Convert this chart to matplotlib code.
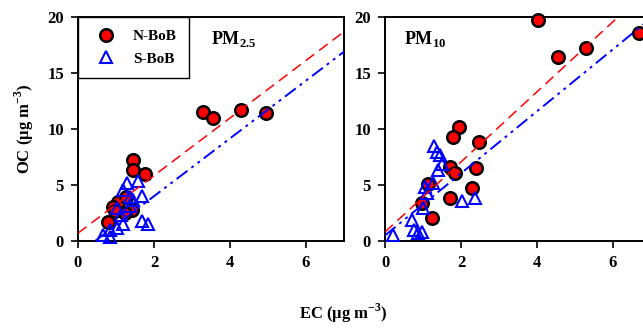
import matplotlib
matplotlib.use("Agg")
import numpy as np
import matplotlib.pyplot as plt

plt.rcParams['font.family'] = ['Liberation Serif', 'DejaVu Serif']
plt.rcParams['font.weight'] = 'bold'
plt.rcParams['mathtext.fontset'] = 'custom'
plt.rcParams['mathtext.rm'] = 'Liberation Serif:bold'
plt.rcParams['mathtext.bf'] = 'Liberation Serif:bold'

# PM2.5 panel
pm25_n_ec = [3.30, 3.54, 4.29, 4.96, 1.46, 1.46, 1.77, 1.05, 1.26, 0.93, 1.41, 1.24, 0.80, 0.97]
pm25_n_oc = [11.55, 11.0, 11.7, 11.45, 7.25, 6.34, 5.98, 3.51, 3.96, 3.06, 2.77, 2.47, 1.73, 2.65]
pm25_s_ec = [1.30, 1.59, 1.19, 1.36, 1.68, 1.45, 1.02, 1.37, 1.68, 1.85, 1.19, 1.02, 0.84, 0.67, 0.84, 1.12]
pm25_s_oc = [5.2, 5.4, 4.55, 3.9, 4.0, 3.7, 2.95, 3.1, 1.8, 1.55, 1.5, 1.13, 0.98, 0.55, 0.33, 2.3]

# PM10 panel
pm10_n_ec = [4.03, 4.56, 5.29, 6.69, 1.96, 1.80, 2.47, 1.71, 1.84, 2.39, 2.28, 1.71, 1.14, 0.97, 1.23]
pm10_n_oc = [19.7, 16.4, 17.2, 18.55, 10.15, 9.26, 8.84, 6.63, 6.1, 6.55, 4.7, 3.81, 5.09, 3.37, 2.02]
pm10_s_ec = [1.29, 1.36, 1.45, 1.49, 1.40, 1.27, 1.05, 1.10, 1.01, 2.02, 2.37, 0.70, 0.75, 0.88, 0.97, 0.20]
pm10_s_oc = [8.5, 7.95, 7.7, 6.9, 6.34, 5.15, 4.85, 4.26, 2.92, 3.6, 3.81, 1.87, 0.98, 0.74, 0.83, 0.54]

# regression lines (slope, intercept)
pm25_n_fit = (2.57, 0.7)
pm25_s_fit = (2.58, -1.16)
pm10_n_fit = (3.13, 0.8)
pm10_s_fit = (2.77, 0.5)

fig = plt.figure(figsize=(6.43, 3.31), dpi=100)
ax1 = fig.add_axes([78 / 643, 90 / 331, 266 / 643, 224 / 331])
ax2 = fig.add_axes([385 / 643, 90 / 331, 266 / 643, 224 / 331])

red_dash = (0, (7, 4))
blue_dashdot = (0, (7, 2.5, 1.5, 2.5, 1.5, 2.5))


def draw(ax, n_ec, n_oc, s_ec, s_oc, n_fit, s_fit):
    ax.plot(n_ec, n_oc, 'o', ms=9, mfc='red', mec='black', mew=1.8,
            ls='none', clip_on=False, zorder=3, label='N-BoB')
    ax.plot(s_ec, s_oc, '^', ms=9, mfc='none', mec='blue', mew=1.5,
            ls='none', clip_on=False, zorder=4, label='S-BoB')
    x = np.linspace(0, 7, 200)
    yn = n_fit[0] * x + n_fit[1]
    ax.plot(x[yn <= 20], yn[yn <= 20], color='red', lw=1.1, ls=red_dash, zorder=5)
    ys = s_fit[0] * x + s_fit[1]
    keep = (ys >= 0) & (ys <= 20)
    ax.plot(x[keep], ys[keep], color='blue', lw=1.4, ls=blue_dashdot, zorder=5)
    ax.set_xlim(0, 7)
    ax.set_ylim(0, 20)
    ax.set_xticks([0, 2, 4, 6])
    ax.set_yticks([0, 5, 10, 15, 20])
    ax.tick_params(direction='out', length=5, width=1.2, labelsize=12, pad=5)
    for lab in ax.get_xticklabels() + ax.get_yticklabels():
        lab.set_fontweight('bold')
    for s in ax.spines.values():
        s.set_linewidth(1.4)


draw(ax1, pm25_n_ec, pm25_n_oc, pm25_s_ec, pm25_s_oc, pm25_n_fit, pm25_s_fit)
draw(ax2, pm10_n_ec, pm10_n_oc, pm10_s_ec, pm10_s_oc, pm10_n_fit, pm10_s_fit)

ax1.text(0.5, 0.9, r'PM$_{2.5}$', transform=ax1.transAxes, fontsize=13,
         fontweight='bold', ha='left', va='center')
ax2.text(0.07, 0.9, r'PM$_{10}$', transform=ax2.transAxes, fontsize=13,
         fontweight='bold', ha='left', va='center')

leg = ax1.legend(loc='upper left', bbox_to_anchor=(0, 1), borderaxespad=0,
                 fancybox=False, edgecolor='black', framealpha=1,
                 prop={'weight': 'bold', 'size': 11}, handletextpad=0.8,
                 borderpad=0.8, labelspacing=0.6)
leg.get_frame().set_linewidth(1.0)

ax1.set_ylabel(r'OC (μg m$^{\mathbf{-3}}$)', fontsize=12, fontweight='bold', labelpad=8)
fig.text(343 / 643, 1 - 313 / 331, r'EC (μg m$^{\mathbf{-3}}$)', fontsize=12,
         fontweight='bold', ha='center', va='center')

fig.savefig('out.png', dpi=100)
